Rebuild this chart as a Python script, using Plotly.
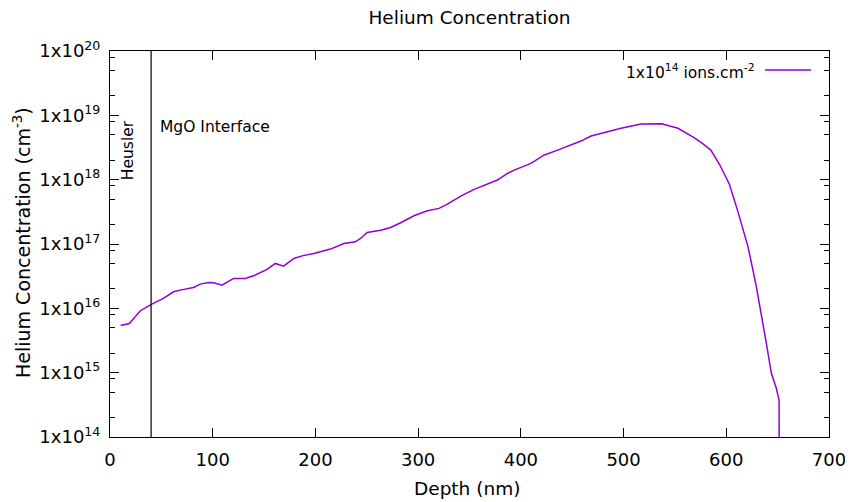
import plotly.graph_objects as go

# depth (nm) and helium concentration (cm^-3)
depth = [10.4, 18.9, 29.3, 40.7, 52, 61.8, 68.3, 81.3, 87.8, 95.9, 101, 109,
         120.3, 131.7, 139.8, 152.9, 161, 169, 178.9, 188, 198.4, 214.6, 227.6,
         239, 243.9, 250.4, 263.4, 273.2, 283, 295.9, 309, 320.3, 328.5, 341.5,
         354.5, 364.2, 377.2, 387, 393.5, 409.8, 422.8, 435.8, 448.8, 458.5,
         468.3, 478, 497.6, 517, 527, 537, 553, 569, 577, 585, 594,
         603, 611.4, 621.2, 629.3, 634.1, 639, 643.9, 648.8, 651.4, 651.6]
conc = [5.4e15, 5.8e15, 9.1e15, 1.16e16, 1.43e16, 1.81e16, 1.92e16, 2.11e16,
        2.38e16, 2.53e16, 2.49e16, 2.29e16, 2.92e16, 2.92e16, 3.2e16, 4.03e16,
        4.99e16, 4.53e16, 5.97e16, 6.6e16, 7.13e16, 8.34e16, 1.02e17, 1.08e17,
        1.22e17, 1.51e17, 1.64e17, 1.81e17, 2.14e17, 2.75e17, 3.28e17, 3.58e17,
        4.17e17, 5.56e17, 7.06e17, 8.24e17, 9.86e17, 1.25e18, 1.41e18, 1.79e18,
        2.42e18, 2.88e18, 3.45e18, 3.98e18, 4.76e18, 5.25e18, 6.28e18, 7.33e18,
        7.45e18, 7.4e18, 6.3e18, 4.47e18, 3.63e18, 2.88e18, 1.66e18,
        8.5e17, 3.16e17, 9.04e16, 2.16e16, 8.32e15, 2.85e15, 9.77e14, 5.68e14,
        3.72e14, 1e13]

interface_depth = 40
x_ticks = [0, 100, 200, 300, 400, 500, 600, 700]
y_ticks = [1e14, 1e15, 1e16, 1e17, 1e18, 1e19, 1e20]
y_ticktext = ['1x10<sup>%d</sup>' % e for e in range(14, 21)]
y_minor = [m * 10.0**e for e in range(14, 20) for m in (2, 5, 8)]

font = 'DejaVu Sans'
# the page body adds an 8px margin, so the figure is 8px smaller
W, H = 845, 494
L, R, T, B = 102, 24, 43, 65
pw, ph = W - L - R, H - T - B


def px(x):  # reference pixel -> paper x
    return (x - 110) / pw


def py(y):  # reference pixel -> paper y
    return (437 - y) / ph


fig = go.Figure()
fig.add_trace(go.Scatter(
    x=depth, y=conc, mode='lines',
    line=dict(color='#9400D3', width=1.5),
    showlegend=False
))

# MgO interface marker
fig.add_shape(type='line', x0=interface_depth, x1=interface_depth,
              y0=0, y1=1, xref='x', yref='paper',
              line=dict(color='black', width=1.2))

# legend drawn by hand, gnuplot style (text then sample)
fig.add_annotation(x=px(757), y=py(72), xref='paper', yref='paper',
                   text='1x10<sup>14</sup> ions.cm<sup>-2</sup>',
                   showarrow=False, xanchor='right', yanchor='middle',
                   font=dict(family=font, size=15.5, color='black'))
fig.add_shape(type='line', x0=px(765), x1=px(811), y0=py(70), y1=py(70),
              xref='paper', yref='paper',
              line=dict(color='#9400D3', width=1.5))

fig.add_annotation(x=17.6, y=18.46, text='Heusler', textangle=-90,
                   showarrow=False, xanchor='center', yanchor='middle',
                   font=dict(family=font, size=15.5, color='black'))
fig.add_annotation(x=46.5, y=18.82, text='MgO Interface',
                   showarrow=False, xanchor='left', yanchor='middle',
                   font=dict(family=font, size=15.5, color='black'))

# axis titles
fig.add_annotation(x=px(467), y=py(488), xref='paper', yref='paper',
                   text='Depth (nm)', showarrow=False,
                   xanchor='center', yanchor='middle',
                   font=dict(family=font, size=18.5, color='black'))
fig.add_annotation(x=px(22), y=py(243), xref='paper', yref='paper',
                   text='Helium Concentration (cm<sup>-3</sup>)',
                   textangle=-90, showarrow=False,
                   xanchor='center', yanchor='middle',
                   font=dict(family=font, size=19, color='black'))

axis_common = dict(
    showline=True, linecolor='black', linewidth=1, mirror='ticks',
    ticks='inside', ticklen=9, tickcolor='black', tickwidth=1,
    showgrid=False, zeroline=False, automargin=False,
    tickfont=dict(family=font, size=18, color='black'),
)

fig.update_xaxes(range=[0, 700], tickvals=x_ticks, ticklabelstandoff=6,
                 **axis_common)
fig.update_yaxes(type='log', range=[14, 20], tickvals=y_ticks,
                 ticktext=y_ticktext, ticklabelstandoff=5,
                 minor=dict(tickvals=y_minor, ticks='inside', ticklen=5,
                            tickcolor='black', tickwidth=1),
                 **axis_common)

fig.update_layout(
    width=W, height=H,
    margin=dict(l=L, r=R, t=T, b=B),
    paper_bgcolor='white', plot_bgcolor='white',
    title=dict(text='Helium Concentration', x=(L + pw / 2) / W, xanchor='center',
               y=1 - 10 / H, yanchor='middle',
               font=dict(family=font, size=18.5, color='black')),
)

fig.write_html('out.html')
